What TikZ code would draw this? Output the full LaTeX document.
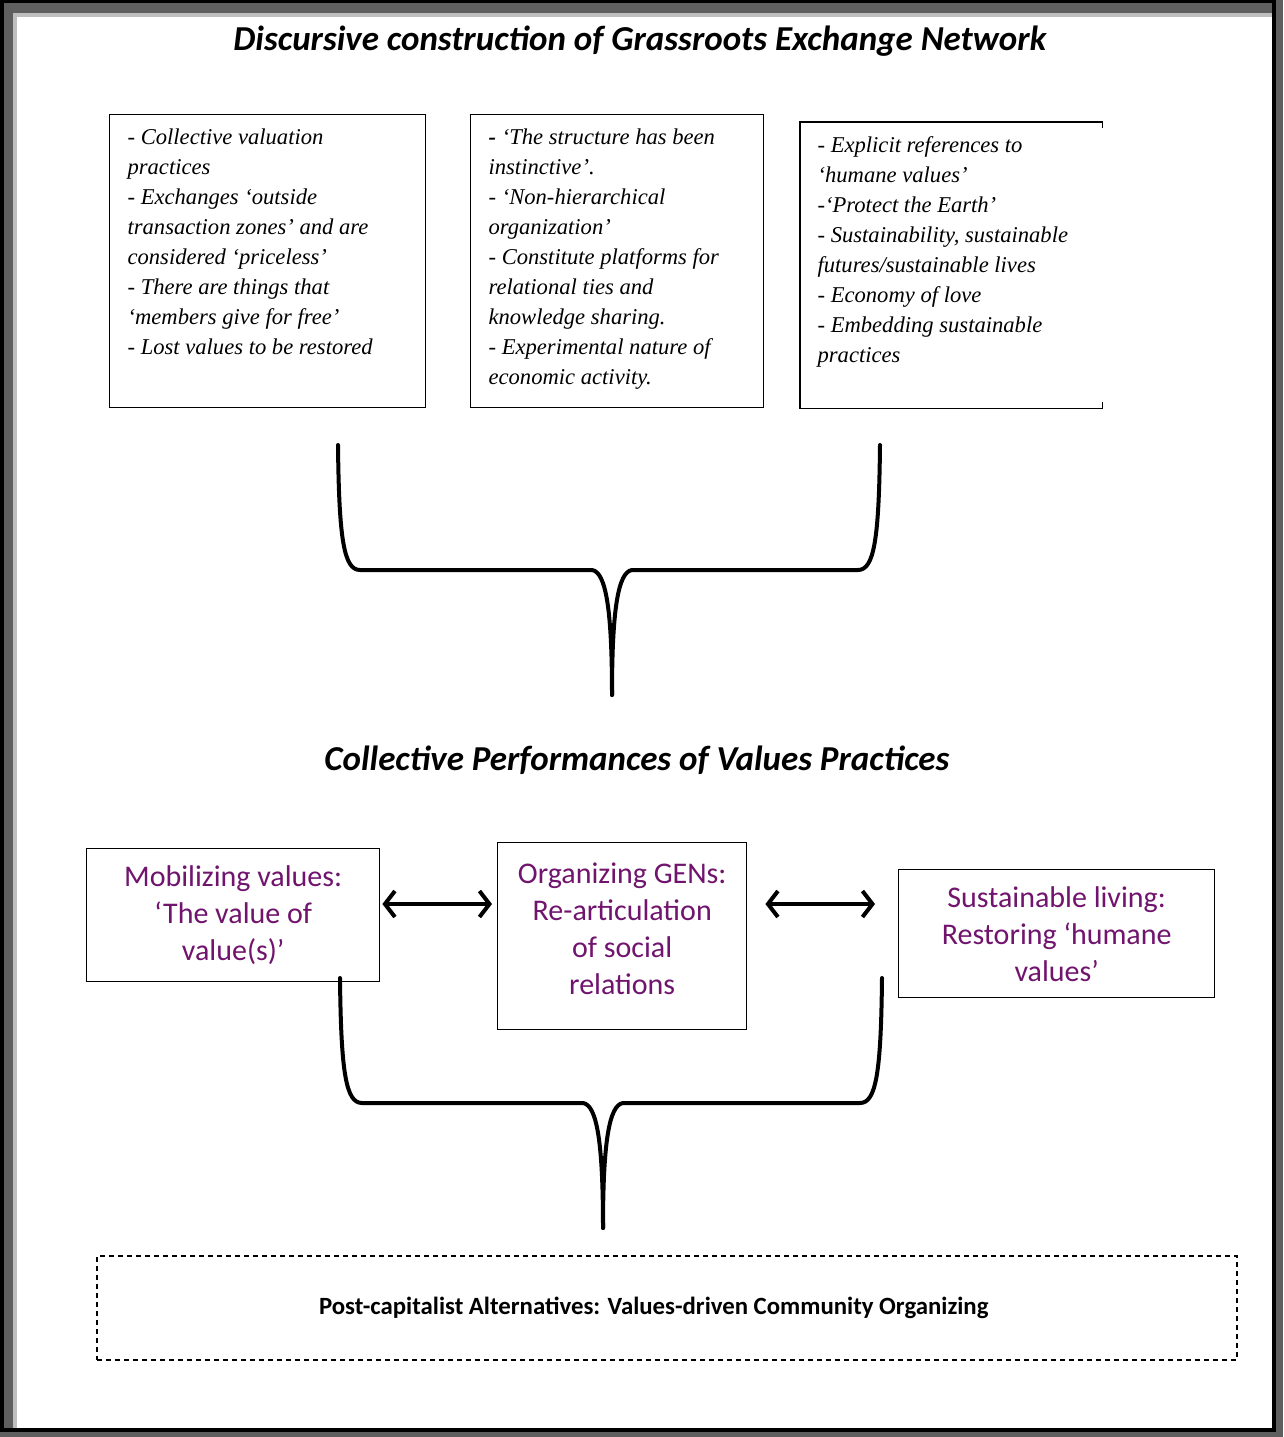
\documentclass[tikz,border=0pt]{standalone}
\usepackage{fontspec}
\setmainfont{Liberation Serif}
\newfontfamily\calibri{Carlito}
\usetikzlibrary{arrows.meta}
\definecolor{valpurple}{RGB}{112,20,110}
\definecolor{framegray}{RGB}{95,95,95}
\definecolor{framelight}{RGB}{190,190,190}

\begin{document}
\begin{tikzpicture}[x=1pt,y=-1pt,
    srcbox/.style={draw,line width=1.2pt,anchor=north west,inner xsep=18pt,inner ysep=14pt,
      font=\fontsize{22.6}{30}\selectfont\itshape},
    valbox/.style={draw,line width=1.4pt,anchor=north west,align=center,text=valpurple,
      font=\calibri\fontsize{30}{37}\selectfont},
    heading/.style={anchor=base,font=\calibri\bfseries\itshape\fontsize{35}{40}\selectfont},
    outbox/.style={draw,line width=1.5pt,dash pattern=on 5pt off 4pt,anchor=north west,
      font=\calibri\bfseries\fontsize{24.8}{28}\selectfont},
    brace/.style={line width=4pt,line cap=round,line join=round},
    both/.style={line width=4pt,{Straight Barb[length=10pt,width=26pt]}-{Straight Barb[length=10pt,width=26pt]}}]
  \useasboundingbox (0,0) rectangle (1283,1437);
  \fill[framegray] (0,0) rectangle (1283,1437);
  \fill[black] (0,0) rectangle (1276,1432);
  \fill[framegray] (4,3) rectangle (1272,1428);
  \fill[framelight] (13,13) rectangle (1272,1428);
  \fill[white] (17,17) rectangle (1272,1428);

  \node[heading] (title) at (640,51) {Discursive construction of Grassroots Exchange Network};

  \node[srcbox] (src1) at (109,114) {\begin{minipage}[t][265pt][t]{280pt}\raggedright
    - Collective valuation\\ practices\\ - Exchanges ‘outside\\ transaction zones’ and are\\
    considered ‘priceless’\\ - There are things that\\ ‘members give for free’\\
    - Lost values to be restored\end{minipage}};
  \node[srcbox] (src2) at (470,114) {\begin{minipage}[t][265pt][t]{257pt}\raggedright
    \textbf{-} ‘The structure has been\\ instinctive’.\\ - ‘Non-hierarchical\\ organization’\\
    - Constitute platforms for\\ relational ties and\\ knowledge sharing.\\
    - Experimental nature of\\ economic activity.\end{minipage}};
  \node[srcbox,draw=none,inner xsep=17pt] (src3) at (800,122) {\begin{minipage}[t][257pt][t]{267pt}\raggedright
    - Explicit references to\\ ‘humane values’\\ -‘Protect the Earth’\\
    - Sustainability, sustainable\\ futures/sustainable lives\\ - Economy of love\\
    - Embedding sustainable\\ practices\end{minipage}};
  \draw[line width=1.2pt] ([yshift=-6pt]src3.north east) -- (src3.north east) -- (src3.north west)
    -- (src3.south west) -- (src3.south east) -- ([yshift=6pt]src3.south east);

  \draw[brace] (338,445) .. controls (339,540) and (344,570) .. (360,570) -- (592,570)
    .. controls (606,572) and (612,610) .. (612,695);
  \draw[brace] (880,445) .. controls (879,540) and (874,570) .. (858,570) -- (632,570)
    .. controls (618,572) and (612,610) .. (612,695);

  \node[heading] (perf) at (637,770) {Collective Performances of Values Practices};

  \node[valbox,minimum width=293pt,minimum height=133pt] (mobil) at (86,848)
    {Mobilizing values:\\ ‘The value of\\ value(s)’};
  \node[valbox,minimum width=249pt,minimum height=187pt] (organ) at (497,842)
    {Organizing GENs:\\ Re-articulation\\ of social\\ relations\\[-21pt]};
  \node[valbox,minimum width=316pt,minimum height=128pt] (living) at (898,869)
    {Sustainable living:\\ Restoring ‘humane\\ values’};

  \coordinate (arrowrow) at (0,904);
  \draw[both,shorten <=2pt,shorten >=5pt] (mobil.east |- arrowrow) -- (organ.west |- arrowrow);
  \draw[both,shorten <=18pt,shorten >=23pt] (organ.east |- arrowrow) -- (living.west |- arrowrow);

  \draw[brace] (340,978) .. controls (341,1073) and (346,1103) .. (362,1103) -- (583,1103)
    .. controls (597,1105) and (603,1143) .. (603,1228);
  \draw[brace] (882,978) .. controls (881,1073) and (876,1103) .. (860,1103) -- (623,1103)
    .. controls (609,1105) and (603,1143) .. (603,1228);

  \node[outbox,minimum width=1140pt,minimum height=104pt] (outcome) at (96,1255)
    {Post-capitalist Alternatives: Values-driven Community Organizing\hspace*{26pt}};
\end{tikzpicture}
\end{document}
